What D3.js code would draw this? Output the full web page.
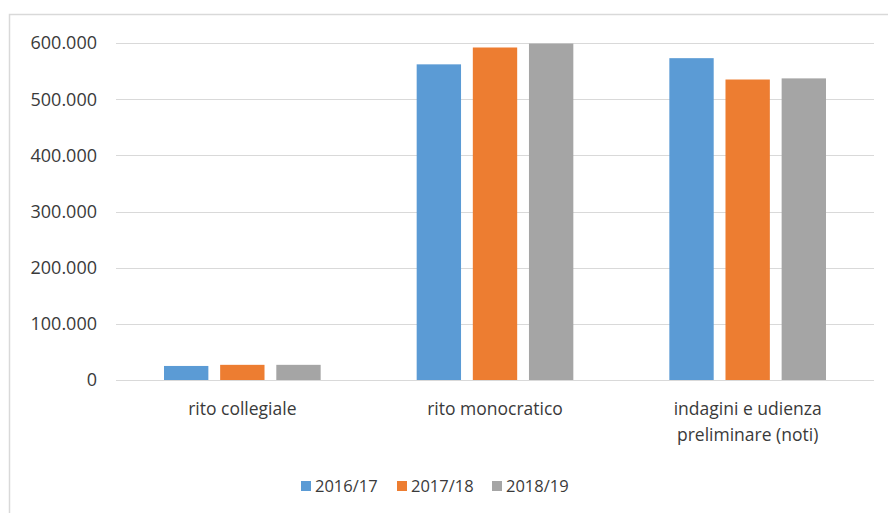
<!DOCTYPE html>
<html>
<head>
<meta charset="utf-8">
<script src="https://cdn.jsdelivr.net/npm/d3@7"></script>
<style>
  body { margin: 0; background: #fff; }
  svg { display: block; font-family: 'Open Sans', 'Noto Sans', sans-serif; }
</style>
</head>
<body>
<script>
(function () {
  'use strict'

  var categories = [['rito collegiale'], ['rito monocratico'], ['indagini e udienza', 'preliminare (noti)']]
  var series = ['2016/17', '2017/18', '2018/19']
  var colors = ['#5b9bd5', '#ed7d31', '#a5a5a5']
  var values = [
    [25000, 562000, 573000],
    [27000, 592000, 535000],
    [27000, 599000, 537000]
  ]
  var yTicks = [0, 100000, 200000, 300000, 400000, 500000, 600000]

  var w = 888
  var h = 513
  var m = { left: 116, right: 14, top: 43, bottom: 133 }

  var svg = d3.select('body').append('svg')
    .attr('width', w)
    .attr('height', h)

  // chart border
  svg.append('rect')
    .attr('x', 9.5).attr('y', 14.5)
    .attr('width', w).attr('height', h)
    .attr('fill', 'none')
    .attr('stroke', '#d9d9d9')
    .attr('stroke-width', 1.5)

  var x = d3.scaleBand()
    .domain(d3.range(categories.length))
    .range([m.left, w - m.right])
    .paddingInner(0.38)
    .paddingOuter(0.19)

  var xs = d3.scaleBand()
    .domain(d3.range(series.length))
    .range([0, x.bandwidth()])
    .paddingInner(0.21)

  var y = d3.scaleLinear()
    .domain([0, 600000])
    .range([h - m.bottom, m.top])

  var fmt = function (d) { return d === 0 ? '0' : d3.format(',')(d).replace(/,/g, '.') }

  // gridlines
  svg.append('g').selectAll('line')
    .data(yTicks)
    .enter().append('line')
      .attr('x1', m.left)
      .attr('x2', w - m.right)
      .attr('y1', function (d) { return Math.round(y(d)) + 0.5 })
      .attr('y2', function (d) { return Math.round(y(d)) + 0.5 })
      .attr('stroke', '#d9d9d9')
      .attr('stroke-width', 1)

  // y labels
  svg.append('g').selectAll('text')
    .data(yTicks)
    .enter().append('text')
      .attr('x', 97)
      .attr('y', function (d) { return y(d) })
      .attr('dy', '0.36em')
      .attr('text-anchor', 'end')
      .attr('font-size', 18)
      .attr('fill', '#3a3a3a')
      .text(fmt)

  // bars
  series.forEach(function (s, si) {
    svg.append('g').selectAll('rect')
      .data(values[si])
      .enter().append('rect')
        .attr('x', function (d, i) { return x(i) + xs(si) })
        .attr('y', function (d) { return y(d) })
        .attr('width', xs.bandwidth())
        .attr('height', function (d) { return y(0) - y(d) })
        .attr('fill', colors[si])
  })

  // category labels
  var cat = svg.append('g').selectAll('text')
    .data(categories)
    .enter().append('text')
      .attr('x', function (d, i) { return x(i) + x.bandwidth() / 2 })
      .attr('y', 415)
      .attr('text-anchor', 'middle')
      .attr('font-size', 17.5)
      .attr('fill', '#3a3a3a')
  cat.selectAll('tspan')
    .data(function (d) { return d })
    .enter().append('tspan')
      .attr('x', function () { return d3.select(this.parentNode).attr('x') })
      .attr('dy', function (d, i) { return i === 0 ? 0 : 26 })
      .text(function (d) { return d })

  // legend
  var legX = [301, 397, 492]
  var leg = svg.append('g').selectAll('g')
    .data(series)
    .enter().append('g')
      .attr('transform', function (d, i) { return 'translate(' + legX[i] + ',486)' })
  leg.append('rect')
    .attr('x', 0).attr('y', -5)
    .attr('width', 10).attr('height', 10)
    .attr('fill', function (d, i) { return colors[i] })
  leg.append('text')
    .attr('x', 14)
    .attr('dy', '0.36em')
    .attr('font-size', 16.5)
    .attr('fill', '#3a3a3a')
    .text(function (d) { return d })
}())
</script>
</body>
</html>
